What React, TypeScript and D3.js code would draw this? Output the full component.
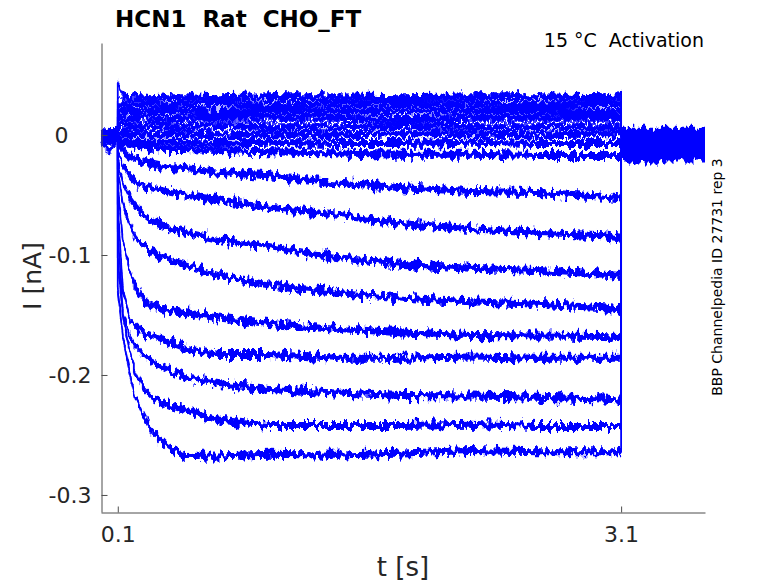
import React, { useEffect, useRef } from "react";
import * as d3 from "d3";

// time axis pieces (s)
const PRE_TIME = [0, 0.05, 0.1];
const STEP_TIME = [0.1, 0.13, 0.17, 0.2, 0.25, 0.3, 0.4, 0.5, 0.7, 1.0, 1.4, 1.8, 2.2, 2.6, 3.0, 3.1];
const TAIL_TIME = [3.1, 3.35, 3.6];

// step currents (nA), top trace first
const C1 = [0.044, 0.032, 0.031, 0.032, 0.032, 0.031, 0.032, 0.032, 0.031, 0.032, 0.032, 0.031, 0.032, 0.032, 0.031, 0.032];
const C2 = [0.026, 0.026, 0.025, 0.026, 0.026, 0.026, 0.025, 0.026, 0.026, 0.025, 0.026, 0.026, 0.026, 0.025, 0.026, 0.026];
const C3 = [0.02, 0.02, 0.02, 0.019, 0.02, 0.02, 0.02, 0.02, 0.019, 0.02, 0.02, 0.02, 0.02, 0.02, 0.019, 0.02];
const C4 = [0.014, 0.014, 0.013, 0.014, 0.014, 0.014, 0.013, 0.014, 0.014, 0.014, 0.014, 0.013, 0.014, 0.014, 0.014, 0.014];
const C5 = [0.008, 0.008, 0.007, 0.008, 0.007, 0.008, 0.007, 0.007, 0.008, 0.007, 0.007, 0.008, 0.007, 0.007, 0.007, 0.007];
const C6 = [0.002, 0.001, 0.001, 0.001, 0.001, 0.0, 0.001, 0.001, 0.0, 0.001, 0.0, 0.001, 0.001, 0.0, 0.001, 0.001];
const C7 = [-0.004, -0.005, -0.005, -0.006, -0.006, -0.006, -0.006, -0.006, -0.007, -0.006, -0.007, -0.007, -0.006, -0.007, -0.007, -0.007];
const C8 = [-0.004, -0.007, -0.008, -0.009, -0.01, -0.011, -0.012, -0.012, -0.013, -0.014, -0.015, -0.016, -0.016, -0.017, -0.017, -0.017];
const T1 = [-0.004, -0.0125, -0.0175, -0.02, -0.0225, -0.024, -0.027, -0.028, -0.031, -0.034, -0.04, -0.044, -0.047, -0.048, -0.051, -0.0525];
const T2 = [-0.0125, -0.025, -0.034, -0.038, -0.042, -0.044, -0.0475, -0.05, -0.054, -0.06, -0.0667, -0.074, -0.078, -0.082, -0.084, -0.086];
const T3 = [-0.021, -0.04, -0.052, -0.058, -0.066, -0.071, -0.077, -0.081, -0.087, -0.093, -0.102, -0.108, -0.111, -0.113, -0.116, -0.117];
const T4 = [-0.029, -0.058, -0.075, -0.083, -0.092, -0.0975, -0.104, -0.108, -0.117, -0.125, -0.131, -0.136, -0.139, -0.141, -0.144, -0.146];
const T5 = [-0.042, -0.0875, -0.1125, -0.125, -0.136, -0.142, -0.146, -0.148, -0.1525, -0.157, -0.161, -0.165, -0.167, -0.1675, -0.168, -0.169];
const T6 = [-0.058, -0.129, -0.1525, -0.159, -0.165, -0.168, -0.172, -0.1775, -0.183, -0.183, -0.186, -0.186, -0.185, -0.186, -0.186, -0.186];
const T7 = [-0.079, -0.148, -0.167, -0.175, -0.183, -0.189, -0.196, -0.202, -0.207, -0.212, -0.215, -0.217, -0.2175, -0.2185, -0.22, -0.221];
const T8 = [-0.104, -0.15, -0.179, -0.196, -0.211, -0.2175, -0.225, -0.229, -0.2375, -0.242, -0.242, -0.242, -0.241, -0.243, -0.243, -0.243];
const T9 = [-0.129, -0.167, -0.1975, -0.217, -0.2325, -0.246, -0.26, -0.268, -0.2675, -0.266, -0.267, -0.265, -0.263, -0.264, -0.264, -0.264];
const STEP_TRACES = [C1, C2, C3, C4, C5, C6, C7, C8, T1, T2, T3, T4, T5, T6, T7, T8, T9];

// holding current before the step and after it (nA), same trace order
const PRE_CURRENT = [
  [0.004, 0.003, 0.003], [0.003, 0.002, 0.003], [0.002, 0.003, 0.002], [0.002, 0.001, 0.002],
  [0.001, 0.001, 0.0], [0.0, 0.0, 0.001], [0.0, -0.001, 0.0], [-0.001, -0.001, -0.001],
  [-0.002, -0.001, -0.002], [-0.002, -0.003, -0.002], [-0.003, -0.002, -0.003], [-0.003, -0.004, -0.003],
  [-0.004, -0.003, -0.004], [-0.004, -0.015, -0.004], [-0.005, -0.004, -0.005], [-0.005, -0.005, -0.004],
  [-0.006, -0.005, -0.005],
];
const TAIL_CURRENT = [
  [0.004, 0.004, 0.004], [0.002, 0.002, 0.002], [0.0, 0.0, 0.0], [-0.002, -0.002, -0.002],
  [-0.004, -0.004, -0.004], [-0.006, -0.006, -0.006], [-0.008, -0.008, -0.008], [-0.01, -0.01, -0.01],
  [-0.012, -0.012, -0.012], [-0.013, -0.013, -0.013], [-0.014, -0.014, -0.014], [-0.015, -0.015, -0.015],
  [-0.016, -0.016, -0.016], [-0.017, -0.017, -0.017], [-0.018, -0.018, -0.018], [-0.019, -0.019, -0.019],
  [-0.02, -0.02, -0.02],
];

const X_TICKS = [0.1, 3.1];
const Y_TICKS = [-0.3, -0.2, -0.1, 0];
const TITLE = "HCN1  Rat  CHO_FT";
const SUBTITLE = "15 °C  Activation";
const SIDE_NOTE = "BBP Channelpedia ID 27731 rep 3";

const FONT = "'DejaVu Sans', sans-serif";

const App: React.FC = () => {
  const svgRef = useRef<SVGSVGElement | null>(null);

  useEffect(() => {
    if (!svgRef.current) return;
    const width = 778;
    const height = 583;
    const svg = d3.select(svgRef.current);
    svg.selectAll("*").remove();
    svg.attr("width", width).attr("height", height);

    const x = d3.scaleLinear().domain([0, 3.6]).range([101, 705]);
    const y = d3.scaleLinear().domain([-0.3142, 0.0767]).range([512, 43]);

    // noise texture for the recorded traces (vertical jitter only)
    const defs = svg.append("defs");
    const filt = defs.append("filter")
      .attr("id", "jitter")
      .attr("filterUnits", "userSpaceOnUse")
      .attr("x", 0).attr("y", 0).attr("width", width).attr("height", height);
    filt.append("feTurbulence")
      .attr("type", "fractalNoise")
      .attr("baseFrequency", "0.25 0.09")
      .attr("numOctaves", 3)
      .attr("seed", 4)
      .attr("result", "noise");
    filt.append("feColorMatrix")
      .attr("in", "noise")
      .attr("type", "matrix")
      .attr("values", "0 0 0 0 0.5  0 1 0 0 0  0 0 1 0 0  0 0 0 0 1")
      .attr("result", "ynoise");
    filt.append("feDisplacementMap")
      .attr("in", "SourceGraphic")
      .attr("in2", "ynoise")
      .attr("scale", 15)
      .attr("xChannelSelector", "R")
      .attr("yChannelSelector", "G");

    const line = d3.line<[number, number]>()
      .x(d => x(d[0]))
      .y(d => y(d[1]));
    // noise band: thickness is vertical only, like a dense sampled recording
    const band = d3.area<[number, number]>()
      .x(d => x(d[0]))
      .y0(d => y(d[1]) + 3.5)
      .y1(d => y(d[1]) - 3.5);

    const traces = STEP_TRACES.map((step, i) => {
      const pts: [number, number][] = [];
      PRE_TIME.forEach((t, j) => pts.push([t, PRE_CURRENT[i][j]]));
      STEP_TIME.forEach((t, j) => pts.push([t, step[j]]));
      TAIL_TIME.forEach((t, j) => pts.push([t, TAIL_CURRENT[i][j]]));
      return pts;
    });

    const gTr = svg.append("g").attr("filter", "url(#jitter)");
    gTr.selectAll("path.band")
      .data(traces)
      .enter()
      .append("path")
      .attr("class", "band")
      .attr("d", d => band(d) ?? "")
      .attr("fill", "#0000ff");
    gTr.selectAll("path.trace")
      .data(traces)
      .enter()
      .append("path")
      .attr("class", "trace")
      .attr("d", d => line(d) ?? "")
      .attr("fill", "none")
      .attr("stroke", "#0000ff")
      .attr("stroke-width", 1.8);

    // axes, MATLAB style: inward ticks, no box
    const yAxis = d3.axisLeft(y)
      .tickValues(Y_TICKS)
      .tickSizeInner(-6)
      .tickSizeOuter(0)
      .tickPadding(10)
      .tickFormat(d => String(d));
    const gy = svg.append("g").call(yAxis);
    gy.selectAll("text")
      .attr("dx", d => (d === 0 ? -23 : 0));

    const xAxis = d3.axisBottom(x)
      .tickValues(X_TICKS)
      .tickSizeInner(-6)
      .tickSizeOuter(0)
      .tickPadding(14)
      .tickFormat(d => String(d));
    const gx = svg.append("g");
    gx.attr("transform", `translate(0,${y.range()[0] + 0.5})`).call(xAxis);

    [gx, gy].forEach(g => {
      g.select(".domain").attr("stroke", "#4d4d4d");
      g.selectAll(".tick line").attr("stroke", "#4d4d4d");
      g.selectAll("text")
        .attr("fill", "#262626")
        .style("font-family", FONT)
        .style("font-size", "22px");
    });
    gy.attr("transform", `translate(${x.range()[0] + 0.5},0)`);

    svg.append("text")
      .attr("x", 403).attr("y", 576)
      .attr("text-anchor", "middle")
      .style("font-family", FONT).style("font-size", "26px")
      .attr("fill", "#262626")
      .text("t [s]");

    svg.append("text")
      .attr("transform", "translate(41,276) rotate(-90)")
      .attr("text-anchor", "middle")
      .style("font-family", FONT).style("font-size", "25px")
      .attr("fill", "#262626")
      .text("I [nA]");

    svg.append("text")
      .attr("x", 115).attr("y", 27)
      .style("font-family", FONT).style("font-size", "23px").style("font-weight", "bold")
      .style("white-space", "pre")
      .attr("fill", "#000")
      .text(TITLE);

    svg.append("text")
      .attr("x", 704).attr("y", 47)
      .attr("text-anchor", "end")
      .style("font-family", FONT).style("font-size", "19px")
      .style("white-space", "pre")
      .attr("fill", "#000")
      .text(SUBTITLE);

    svg.append("text")
      .attr("transform", "translate(722,277) rotate(-90)")
      .attr("text-anchor", "middle")
      .style("font-family", FONT).style("font-size", "14px")
      .attr("fill", "#000")
      .text(SIDE_NOTE);
  }, []);

  return (
    <svg ref={svgRef} style={{ position: "absolute", left: 0, top: 0, background: "#fff" }}></svg>
  );
};

export default App;
